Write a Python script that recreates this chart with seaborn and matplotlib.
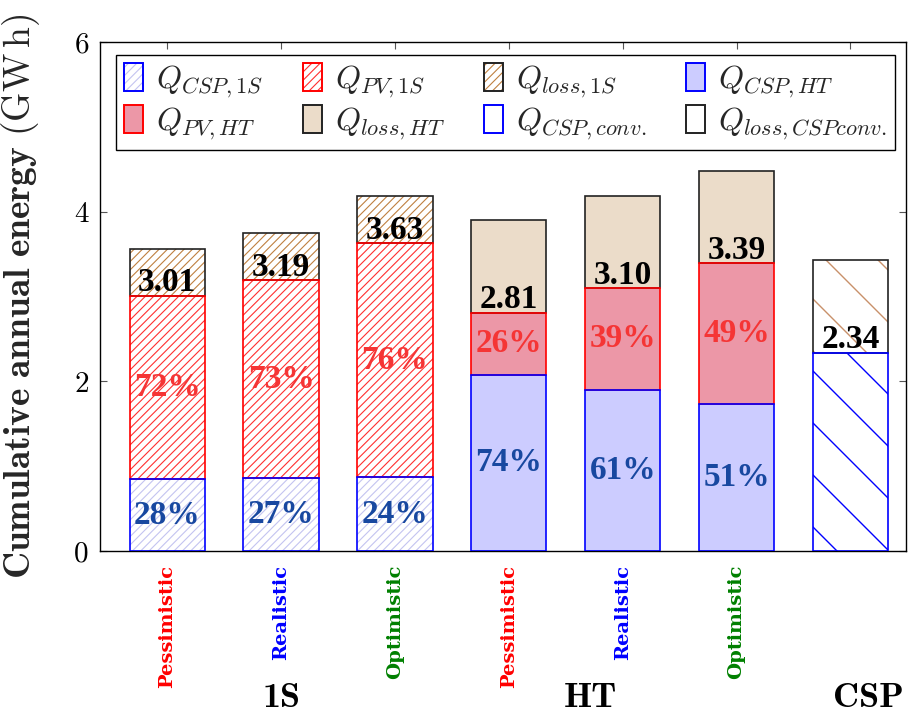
import matplotlib
matplotlib.use("Agg")
import matplotlib.pyplot as plt
import numpy as np
import pandas as pd
import seaborn as sns
from matplotlib.patches import Rectangle
from matplotlib.lines import Line2D
from matplotlib.legend_handler import HandlerTuple

# ---- data -------------------------------------------------------------
bar_keys = ["1S-P", "1S-R", "1S-O", "HT-P", "HT-R", "HT-O", "CSP"]
scenario_labels = ["Pessimistic", "Realistic", "Optimistic",
                   "Pessimistic", "Realistic", "Optimistic", ""]
scenario_colors = ["red", "blue", "green", "red", "blue", "green", "black"]
bar_group = ["1S", "1S", "1S", "HT", "HT", "HT", "CSP"]
group_names = ["1S", "HT", "CSP"]

q_csp = [0.85, 0.86, 0.87, 2.08, 1.90, 1.73, 2.34]      # GWh from CSP
q_useful = [3.01, 3.19, 3.63, 2.81, 3.10, 3.39, 2.34]   # CSP + PV delivered
q_gross = [3.56, 3.75, 4.18, 3.90, 4.19, 4.48, 3.43]    # incl. losses

yticks = [0, 2, 4, 6]

q_csp_a = np.array(q_csp)
q_use_a = np.array(q_useful)
q_gross_a = np.array(q_gross)
q_pv_a = q_use_a - q_csp_a
q_loss_a = q_gross_a - q_use_a
csp_pct = np.round(100 * q_csp_a / q_use_a).astype(int)
pv_pct = 100 - csp_pct

# ---- styles -----------------------------------------------------------
HATCH_CSP1S = "#c4c4f0"
HATCH_PV1S = "#ff3030"
HATCH_LOSS1S = "#bf8040"
FILL_CSPHT = "#ccccff"
FILL_PVHT = "#ec97a7"
FILL_LOSSHT = "#ebdcc9"
SPARSE_BROWN = "#c8906a"

style = {
    # layer -> group -> (face, hatch color, hatch, edge)
    "csp": {"1S": ("white", HATCH_CSP1S, "////", "blue"),
            "HT": (FILL_CSPHT, FILL_CSPHT, None, "blue"),
            "CSP": ("white", "white", None, "blue")},
    "pv": {"1S": ("white", HATCH_PV1S, "////", "red"),
           "HT": (FILL_PVHT, FILL_PVHT, None, "red"),
           "CSP": ("white", "white", None, "red")},
    "loss": {"1S": ("white", HATCH_LOSS1S, "////", "#222222"),
             "HT": (FILL_LOSSHT, FILL_LOSSHT, None, "#222222"),
             "CSP": ("white", "white", None, "#222222")},
}

sns.set_theme(style="ticks")
plt.rcParams.update({
    "mathtext.fontset": "cm",
    "hatch.linewidth": 0.8,
    "axes.edgecolor": "black",
    "axes.linewidth": 1.0,
    "xtick.color": "black",
    "ytick.color": "black",
})

fig = plt.figure(figsize=(9.09, 7.12), dpi=100)
ax = fig.add_axes([0.110, 0.226, 0.887, 0.715])

df = pd.DataFrame({"bar": bar_keys, "csp": q_csp_a, "pv": q_pv_a,
                   "loss": q_loss_a})
bottoms = {"csp": np.zeros(7), "pv": q_csp_a, "loss": q_use_a}
BAR_W = 0.66


def stacked_layer(layer, **kws):
    """Draw one stack layer with seaborn and lift it onto the layer below."""
    before = len(ax.patches)
    sns.barplot(data=df, x="bar", y=layer, order=bar_keys, width=BAR_W,
                errorbar=None, ax=ax, **kws)
    new = ax.patches[before:]
    for p, b, h in zip(new, bottoms[layer], df[layer]):
        p.set_y(b)
        if h <= 0:
            p.set_visible(False)
    return new


segments = {}
# filled / hatched segments
for layer in ["csp", "pv", "loss"]:
    new = stacked_layer(layer, color="white", linewidth=0, zorder=2)
    segments[layer] = new
    for p, g in zip(new, bar_group):
        face, hcol, hatch, edge = style[layer][g]
        p.set_facecolor(face)
        p.set_edgecolor(hcol)
        p.set_linewidth(0)
        if hatch:
            p.set_hatch(hatch)

# segment outlines, upper segments first so lower boundaries stay on top
for layer in ["loss", "pv", "csp"]:
    new = stacked_layer(layer, color="white", linewidth=1.2, zorder=4)
    for p, g in zip(new, bar_group):
        p.set_facecolor("none")
        p.set_edgecolor(style[layer][g][3])
        p.set_linewidth(1.2)

ax.set_xlim(-0.59, 6.49)
ax.set_ylim(0, 6)


def sparse_hatch(patch, color, spacing=52.0, phase=0.0, lw=1.0):
    """Draw widely spaced '\\' lines clipped to a bar patch."""
    bb = patch.get_bbox()
    (x0, y0), (x1, y1) = ax.transData.transform([[bb.x0, bb.y0], [bb.x1, bb.y1]])
    inv = ax.transData.inverted()
    c = x0 + y0 - ((x0 + y0 - phase) % spacing)
    while c <= x1 + y1 + spacing:
        pts = inv.transform([[x0 - 5, c - x0 + 5], [x1 + 5, c - x1 - 5]])
        ln = Line2D(pts[:, 0], pts[:, 1], color=color, lw=lw, zorder=3)
        ax.add_line(ln)
        ln.set_clip_path(patch)
        c += spacing


idx_csp = bar_group.index("CSP")
sparse_hatch(segments["csp"][idx_csp], "blue", phase=10)
sparse_hatch(segments["loss"][idx_csp], SPARSE_BROWN, phase=30)

ax.set_xlim(-0.59, 6.49)
ax.set_ylim(0, 6)

# ---- value labels -------------------------------------------------------
lab_font = dict(family="Liberation Serif", weight="bold", size=24)
for i in range(7):
    ax.text(i, q_use_a[i] + 0.05, f"{q_use_a[i]:.2f}", ha="center",
            va="baseline", color="black", zorder=6, **lab_font)
    if bar_group[i] != "CSP":
        ax.text(i, q_csp_a[i] / 2, f"{csp_pct[i]}%", ha="center",
                va="center", color="#1848a0", zorder=6, **lab_font)
        ax.text(i, q_csp_a[i] + q_pv_a[i] / 2, f"{pv_pct[i]}%", ha="center",
                va="center", color="#f53535", zorder=6, **lab_font)

# ---- axes ---------------------------------------------------------------
ax.set_yticks(yticks)
ax.set_yticklabels([str(v) for v in yticks], family="cmr10", fontsize=21)
ax.set_xticks(range(7))
ax.set_xticklabels(scenario_labels, rotation=90, family="DejaVu Serif",
                   weight="bold", fontsize=14)
for t, c in zip(ax.get_xticklabels(), scenario_colors):
    t.set_color(c)
ax.tick_params(axis="both", which="both", direction="in", top=True,
               right=True, length=5, width=0.8, color="#555555")
ax.tick_params(axis="x", pad=10)
ax.tick_params(axis="y", pad=8)
for s in ax.spines.values():
    s.set_visible(True)
    s.set_color("black")
ax.set_xlabel("")
ax.set_ylabel(r"$\mathbf{Cumulative\ annual\ energy}\ \mathrm{(GW\,h)}$",
              fontsize=27)
ax.yaxis.set_label_coords(-0.072, 0.5)

# group captions under the scenario labels
group_x = [1.0, 3.72, 6.16]
for g, gx in zip(group_names, group_x):
    ax.text(gx, -0.289, g, transform=ax.get_xaxis_transform(), ha="center",
            va="center", family="cmb10", fontsize=26, color="black")

# ---- legend -------------------------------------------------------------
def proxy(face, hcol, hatch, edge):
    fill = Rectangle((0, 0), 1, 1, facecolor=face, edgecolor=hcol,
                     hatch=hatch, linewidth=0)
    border = Rectangle((0, 0), 1, 1, facecolor="none", edgecolor=edge,
                       linewidth=1.4)
    return (fill, border)


entries = [
    (proxy(*style["csp"]["1S"]), r"$Q_{CSP,1S}$"),
    (proxy(*style["pv"]["1S"]), r"$Q_{PV,1S}$"),
    (proxy(*style["loss"]["1S"]), r"$Q_{loss,1S}$"),
    (proxy(*style["csp"]["HT"]), r"$Q_{CSP,HT}$"),
    (proxy(*style["pv"]["HT"]), r"$Q_{PV,HT}$"),
    (proxy(*style["loss"]["HT"]), r"$Q_{loss,HT}$"),
    (proxy("white", "white", None, "blue"), r"$Q_{CSP,conv.}$"),
    (proxy("white", SPARSE_BROWN, None, "#222222"), r"$Q_{loss,CSPconv.}$"),
]
# legend fills column by column; reorder so entries read row by row
ncol = 4
order = [r * ncol + c for c in range(ncol) for r in range(2)]
handles = [entries[k][0] for k in order]
labels = [entries[k][1] for k in order]
leg = ax.legend(handles, labels, handler_map={tuple: HandlerTuple(ndivide=1, pad=0)},
                ncol=ncol, loc="upper left", bbox_to_anchor=(0.02, 0.975, 0.966, 0.0),
                mode="expand", fontsize=23, frameon=True, fancybox=False,
                edgecolor="black", framealpha=1, handlelength=0.6,
                handleheight=1.0, handletextpad=0.4, columnspacing=0.4,
                labelspacing=0.15, borderpad=0.25, borderaxespad=0)
leg.get_frame().set_linewidth(1.0)
leg.set_zorder(10)

fig.savefig("out.png", dpi=100)
